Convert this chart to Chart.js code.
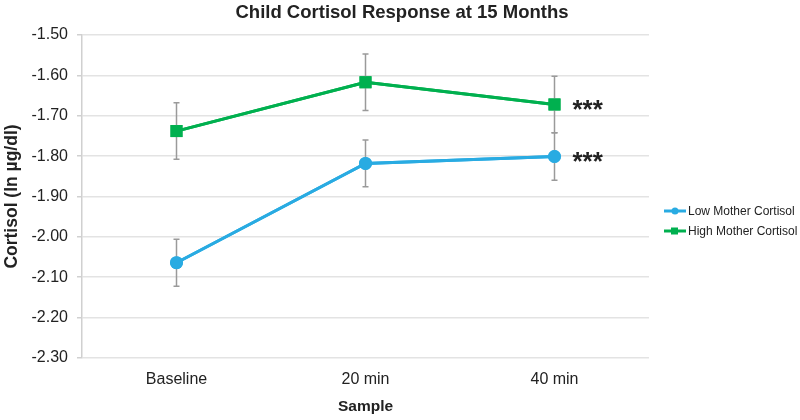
<!DOCTYPE html>
<html>
<head>
<meta charset="utf-8">
<script src="https://cdn.jsdelivr.net/npm/chart.js@4"></script>
<style>
  html, body { margin: 0; padding: 0; background: #fff; }
  #wrap { width: 800px; height: 420px; }
</style>
</head>
<body>
<div id="wrap"><canvas id="chart" width="800" height="420"></canvas></div>
<script>
// ===== DATA =====
const samples = ['Baseline', '20 min', '40 min'];
const lowMother = [-2.064, -1.818, -1.801];
const lowErr = [0.058, 0.058, 0.059];
const highMother = [-1.738, -1.617, -1.672];
const highErr = [0.07, 0.07, 0.07];
const sigMarks = ['', '', '***'];

const blue = '#29ABE2';
const green = '#00B04F';
const fontFam = '"Liberation Sans", Arial, sans-serif';

// error bars, stars, title and legend drawn on top
const extras = {
    id: 'extras',
    afterDatasetsDraw(chart) {
        const ctx = chart.ctx;
        const y = chart.scales.y;
        ctx.save();
        ctx.strokeStyle = '#9a9a9a';
        ctx.lineWidth = 1.5;
        [[lowMother, lowErr, 0], [highMother, highErr, 1]].forEach(([vals, errs, di]) => {
            const meta = chart.getDatasetMeta(di);
            vals.forEach((v, i) => {
                const px = meta.data[i].x;
                const top = y.getPixelForValue(v + errs[i]);
                const bot = y.getPixelForValue(v - errs[i]);
                ctx.beginPath();
                ctx.moveTo(px, top); ctx.lineTo(px, bot);
                ctx.moveTo(px - 3, top); ctx.lineTo(px + 3, top);
                ctx.moveTo(px - 3, bot); ctx.lineTo(px + 3, bot);
                ctx.stroke();
            });
        });
        ctx.restore();
        // redraw points above the error bars
        chart.getSortedVisibleDatasetMetas().forEach(m => m.controller.draw());

        ctx.save();
        ctx.fillStyle = '#222';
        ctx.font = 'bold 26px ' + fontFam;
        ctx.textBaseline = 'middle';
        [[lowMother, 0], [highMother, 1]].forEach(([vals, di]) => {
            const meta = chart.getDatasetMeta(di);
            vals.forEach((v, i) => {
                if (!sigMarks[i]) return;
                ctx.fillText(sigMarks[i], meta.data[i].x + 18, y.getPixelForValue(v) + 6);
            });
        });
        ctx.restore();
    },
    afterDraw(chart) {
        const ctx = chart.ctx;
        ctx.save();
        ctx.fillStyle = '#222';
        ctx.font = 'bold 18.5px ' + fontFam;
        ctx.textAlign = 'center';
        ctx.textBaseline = 'middle';
        ctx.fillText('Child Cortisol Response at 15 Months', 402, 13);

        const items = [['Low Mother Cortisol', blue, 'circle'], ['High Mother Cortisol', green, 'rect']];
        ctx.font = '12px ' + fontFam;
        ctx.textAlign = 'left';
        items.forEach(([label, col, shape], k) => {
            const ly = 211 + k * 20;
            ctx.strokeStyle = col; ctx.fillStyle = col; ctx.lineWidth = 3;
            ctx.beginPath(); ctx.moveTo(664, ly); ctx.lineTo(686, ly); ctx.stroke();
            ctx.beginPath();
            if (shape === 'circle') ctx.arc(675, ly, 3.5, 0, Math.PI * 2);
            else ctx.rect(671, ly - 3.5, 7, 7);
            ctx.fill();
            ctx.fillStyle = '#222';
            ctx.fillText(label, 688, ly + 1);
        });
        ctx.restore();
    }
};

new Chart(document.getElementById('chart'), {
    type: 'line',
    data: {
        labels: samples,
        datasets: [
            { label: 'Low Mother Cortisol', data: lowMother, borderColor: blue, backgroundColor: blue,
              borderWidth: 3, pointStyle: 'circle', pointRadius: 6.5, pointBorderWidth: 0, tension: 0 },
            { label: 'High Mother Cortisol', data: highMother, borderColor: green, backgroundColor: green,
              borderWidth: 3, pointStyle: 'rect', pointRadius: 8.5, pointBorderWidth: 0, tension: 0 }
        ]
    },
    options: {
        responsive: false,
        animation: false,
        layout: { padding: { top: 35, right: 151, left: 0, bottom: 0 } },
        plugins: { legend: { display: false }, title: { display: false }, tooltip: { enabled: false } },
        scales: {
            x: {
                offset: true,
                grid: { display: false, drawTicks: false },
                border: { display: false },
                ticks: { color: '#222', font: { family: fontFam, size: 16 }, padding: 12 },
                title: { display: true, text: 'Sample', color: '#222', font: { family: fontFam, size: 15.5, weight: 'bold' }, padding: { top: 11 } },
                afterFit(s) { s.height = 62; }
            },
            y: {
                min: -2.3, max: -1.5,
                grid: { color: '#e3e3e3', lineWidth: 1.5, tickLength: 5, tickColor: '#d0d0d0' },
                border: { display: true, color: '#d0d0d0', width: 1.5 },
                ticks: { stepSize: 0.1, color: '#222', font: { family: fontFam, size: 16 }, padding: 9,
                         callback: v => v.toFixed(2) },
                title: { display: true, text: 'Cortisol (ln µg/dl)', color: '#222', font: { family: fontFam, size: 17.5, weight: 'bold' }, padding: { top: 2, bottom: 0 } },
                afterFit(s) { s.width = 82; }
            }
        }
    },
    plugins: [extras]
});
</script>
</body>
</html>
